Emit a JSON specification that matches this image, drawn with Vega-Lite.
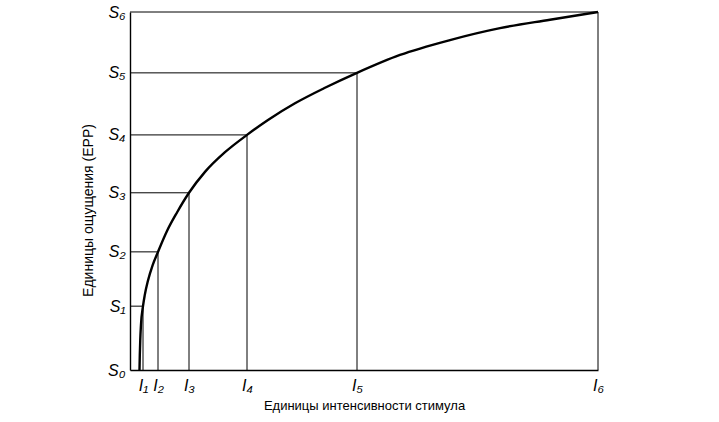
{
  "$schema": "https://vega.github.io/schema/vega-lite/v6.json",
  "autosize": {"type": "none"},
  "width": 468,
  "height": 358,
  "padding": {"left": 130, "top": 12, "right": 121, "bottom": 52},
  "background": "white",
  "config": {"view": {"stroke": null}, "font": "Liberation Sans"},
  "datasets": {
    "levels": [
      {"n": 1, "i": 13, "s": 1.07},
      {"n": 2, "i": 28, "s": 1.98},
      {"n": 3, "i": 59, "s": 2.97},
      {"n": 4, "i": 117, "s": 3.94},
      {"n": 5, "i": 227, "s": 4.98},
      {"n": 6, "i": 468, "s": 6}
    ],
    "curve": [
      {"i": 9.5, "s": 0},
      {"i": 9.8, "s": 0.25},
      {"i": 10.25, "s": 0.5},
      {"i": 10.95, "s": 0.75},
      {"i": 13, "s": 1.07},
      {"i": 14.7, "s": 1.25},
      {"i": 18, "s": 1.5},
      {"i": 22.5, "s": 1.75},
      {"i": 28, "s": 1.98},
      {"i": 37, "s": 2.33},
      {"i": 47, "s": 2.64},
      {"i": 59, "s": 2.97},
      {"i": 75, "s": 3.32},
      {"i": 95, "s": 3.65},
      {"i": 117, "s": 3.94},
      {"i": 138, "s": 4.19},
      {"i": 165, "s": 4.47},
      {"i": 195, "s": 4.73},
      {"i": 227, "s": 4.98},
      {"i": 270, "s": 5.28},
      {"i": 320, "s": 5.53},
      {"i": 370, "s": 5.73},
      {"i": 420, "s": 5.87},
      {"i": 468, "s": 6}
    ]
  },
  "layer": [
    {
      "data": {"name": "levels"},
      "mark": {"type": "rule", "color": "black", "strokeWidth": 1},
      "encoding": {
        "x": {
          "field": "i", "type": "quantitative",
          "scale": {"domain": [0, 468], "nice": false, "zero": false},
          "axis": {
            "values": [13, 28, 59, 117, 227, 468],
            "labelExpr": "'I' + ['₁','₂','₃','₄','₅','₆'][indexof([13, 28, 59, 117, 227, 468], datum.value)]",
            "ticks": false, "grid": false,
            "domainColor": "black", "domainWidth": 1.4,
            "labelFont": "Liberation Sans", "labelFontStyle": "italic", "labelFontSize": 16,
            "labelColor": "black", "labelPadding": 7, "labelFlush": false,
            "labelOverlap": false,
            "title": "Единицы интенсивности стимула",
            "titleFont": "Liberation Sans", "titleFontWeight": "normal", "titleFontSize": 13,
            "titleColor": "black", "titleY": 35, "titleBaseline": "middle"
          }
        },
        "x2": {"value": 0},
        "y": {
          "field": "s", "type": "quantitative",
          "scale": {"domain": [0, 6], "nice": false},
          "axis": {
            "values": [0, 1.07, 1.98, 2.97, 3.94, 4.98, 6],
            "labelExpr": "'S' + ['₀','₁','₂','₃','₄','₅','₆'][indexof([0, 1.07, 1.98, 2.97, 3.94, 4.98, 6], datum.value)]",
            "ticks": false, "grid": false,
            "domainColor": "black", "domainWidth": 1.4,
            "labelFont": "Liberation Sans", "labelFontStyle": "italic", "labelFontSize": 16,
            "labelColor": "black", "labelPadding": 5, "labelFlush": false,
            "labelOverlap": false,
            "title": "Единицы ощущения (ЕРР)",
            "titleFont": "Liberation Sans", "titleFontWeight": "normal", "titleFontSize": 14,
            "titleColor": "black", "titleX": -42, "titleY": 198, "titleBaseline": "middle"
          }
        }
      }
    },
    {
      "data": {"name": "levels"},
      "mark": {"type": "rule", "color": "black", "strokeWidth": 1},
      "encoding": {
        "x": {"field": "i", "type": "quantitative"},
        "y": {"field": "s", "type": "quantitative"},
        "y2": {"value": 358}
      }
    },
    {
      "data": {"name": "curve"},
      "mark": {"type": "line", "color": "black", "strokeWidth": 2.4, "interpolate": "monotone"},
      "encoding": {
        "x": {"field": "i", "type": "quantitative"},
        "y": {"field": "s", "type": "quantitative"}
      }
    }
  ]
}
